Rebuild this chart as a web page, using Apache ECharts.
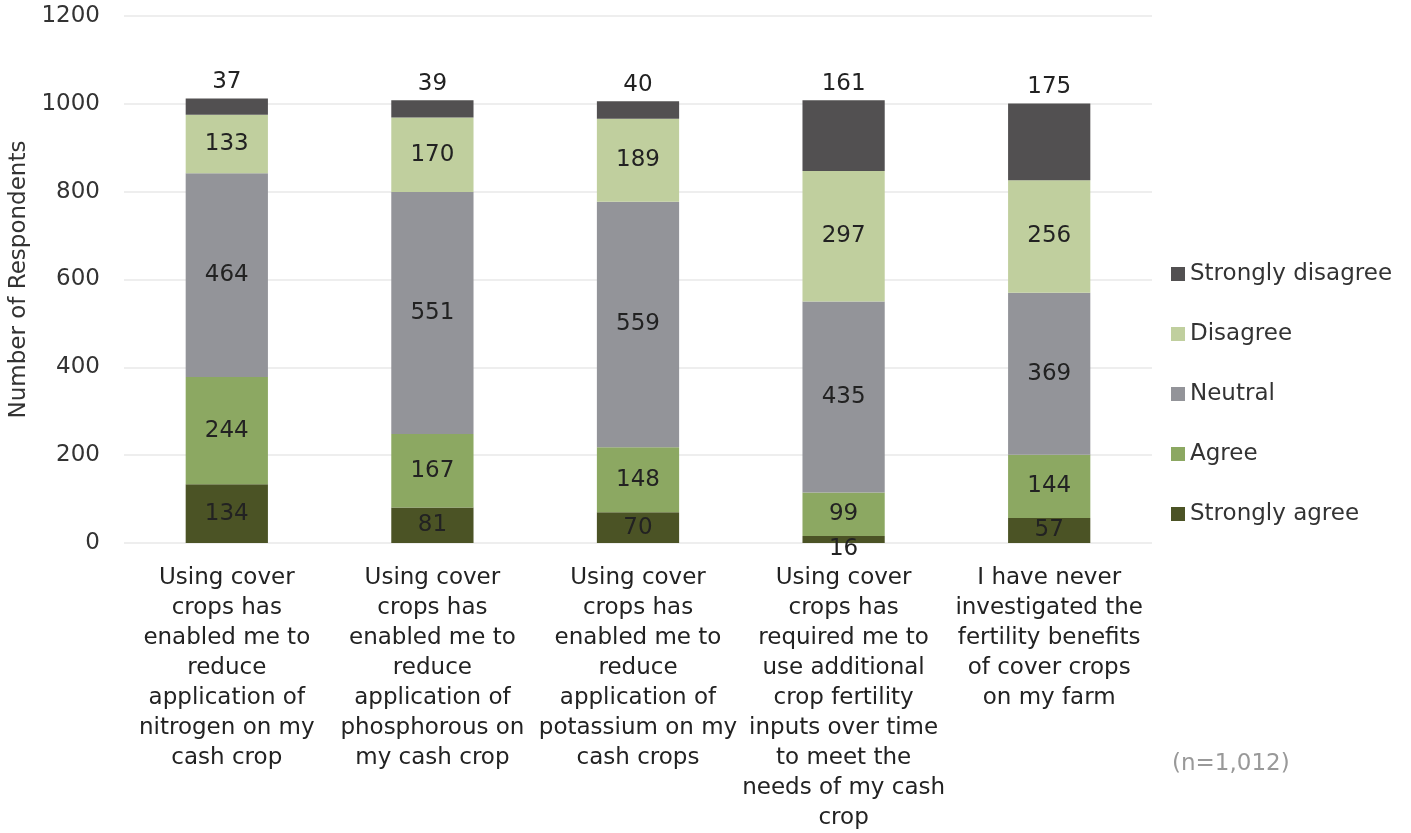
<!DOCTYPE html>
<html>
<head>
<meta charset="utf-8">
<script src="https://cdn.jsdelivr.net/npm/echarts@6/dist/echarts.min.js"></script>
<style>
html,body{margin:0;padding:0;background:#fff;}
#chart{width:1411px;height:833px;}
</style>
</head>
<body>
<div id="chart"></div>
<script>
var categories = [
  "Using cover\ncrops has\nenabled me to\nreduce\napplication of\nnitrogen on my\ncash crop",
  "Using cover\ncrops has\nenabled me to\nreduce\napplication of\nphosphorous on\nmy cash crop",
  "Using cover\ncrops has\nenabled me to\nreduce\napplication of\npotassium on my\ncash crops",
  "Using cover\ncrops has\nrequired me to\nuse additional\ncrop fertility\ninputs over time\nto meet the\nneeds of my cash\ncrop",
  "I have never\ninvestigated the\nfertility benefits\nof cover crops\non my farm"
];
var stronglyAgree    = [134, 81, 70, 16, 57];
var agree            = [244, 167, 148, 99, 144];
var neutral          = [464, 551, 559, 435, 369];
var disagree         = [133, 170, 189, 297, 256];
var stronglyDisagree = [37, 39, 40, 161, 175];
var yTicks = [0, 200, 400, 600, 800, 1000, 1200];
var noteText = "(n=1,012)";

var FONT = "DejaVu Sans";
var colors = {
  sa: "#4b5325",
  a: "#8ca862",
  n: "#939499",
  d: "#c0cf9e",
  sd: "#525051"
};

function mkSeries(name, values, color, pos) {
  return {
    name: name,
    type: "bar",
    stack: "total",
    barWidth: "40%",
    itemStyle: { color: color },
    label: {
      show: true,
      position: pos,
      fontFamily: FONT,
      fontSize: 23,
      color: "#222"
    },
    emphasis: { disabled: true },
    data: values.map(function (v) {
      if (pos === "inside" && v < 30) {
        return { value: v, label: { position: "bottom", distance: -5 } };
      }
      return v;
    })
  };
}

var chart = echarts.init(document.getElementById("chart"), null, { renderer: "canvas" });
chart.setOption({
  animation: false,
  backgroundColor: "#ffffff",
  grid: { left: 124, right: 259, top: 16, bottom: 290, containLabel: false, outerBoundsMode: "none" },
  legend: {
    orient: "vertical",
    left: 1166,
    top: 257,
    itemWidth: 14,
    itemHeight: 14,
    itemGap: 36,
    icon: "rect",
    data: ["Strongly disagree", "Disagree", "Neutral", "Agree", "Strongly agree"],
    textStyle: { fontFamily: FONT, fontSize: 23, color: "#333", lineHeight: 24 }
  },
  xAxis: {
    type: "category",
    data: categories,
    axisLine: { show: false },
    axisTick: { show: false },
    axisLabel: {
      interval: 0,
      margin: 20,
      fontFamily: FONT,
      fontSize: 23,
      lineHeight: 30,
      color: "#222",
      align: "center",
      verticalAlign: "top"
    }
  },
  yAxis: {
    type: "value",
    min: yTicks[0],
    max: yTicks[yTicks.length - 1],
    interval: yTicks[1] - yTicks[0],
    name: "Number of Respondents",
    nameLocation: "middle",
    nameGap: 84,
    nameTextStyle: { fontFamily: FONT, fontSize: 23, color: "#333" },
    axisLine: { show: false },
    axisTick: { show: false },
    axisLabel: {
      margin: 24, fontFamily: FONT, fontSize: 23, color: "#333",
      formatter: function (v) { return String(v); }
    },
    splitLine: { lineStyle: { color: "#eeeeee", width: 2 } }
  },
  graphic: [{
    type: "text",
    left: 1172,
    top: 753,
    style: { text: noteText, fontFamily: FONT, fontSize: 23, fill: "#999" }
  }],
  series: [
    mkSeries("Strongly agree", stronglyAgree, colors.sa, "inside"),
    mkSeries("Agree", agree, colors.a, "inside"),
    mkSeries("Neutral", neutral, colors.n, "inside"),
    mkSeries("Disagree", disagree, colors.d, "inside"),
    mkSeries("Strongly disagree", stronglyDisagree, colors.sd, "top")
  ]
});
</script>
</body>
</html>
